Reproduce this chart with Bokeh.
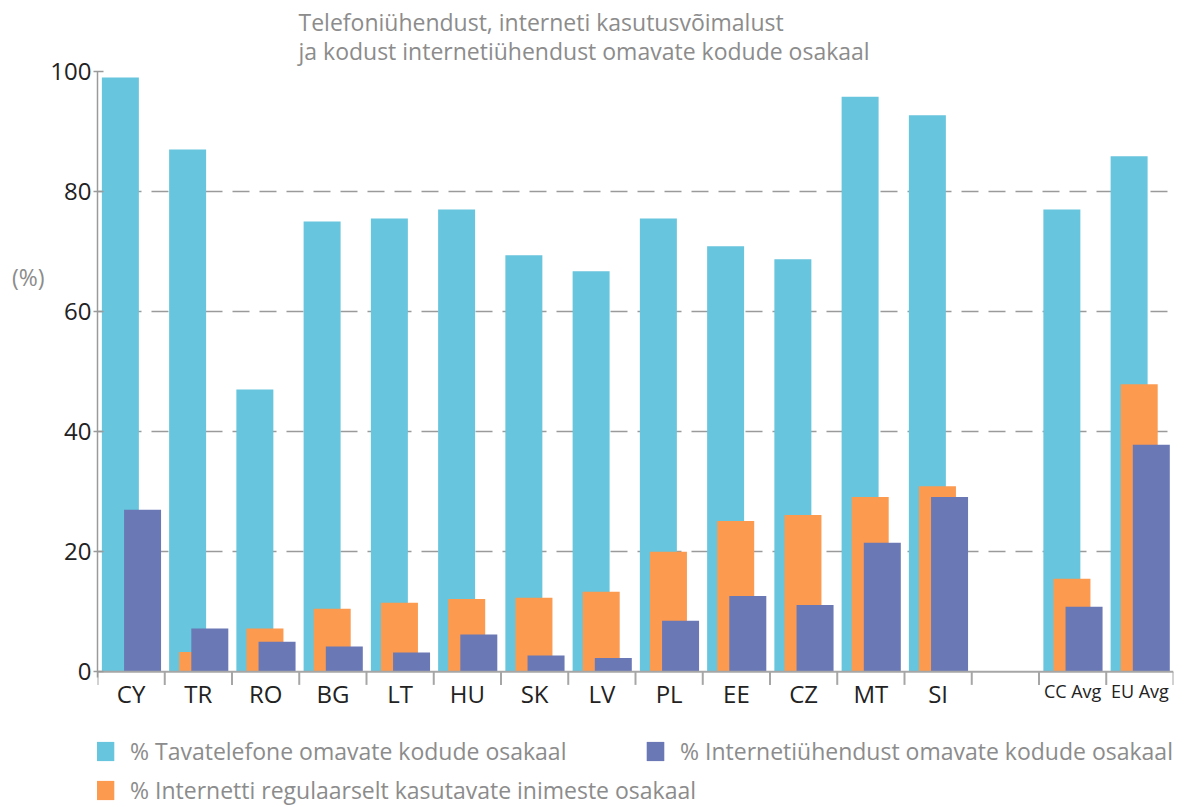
from bokeh.plotting import figure
from bokeh.models import (FactorRange, Range1d, FixedTicker, Legend, LinearAxis,
                          LegendItem, ColumnDataSource)
from bokeh.transform import dodge
from bokeh.core.properties import value
from bokeh.embed import file_html
from bokeh.resources import INLINE

categories = ["CY", "TR", "RO", "BG", "LT", "HU", "SK", "LV", "PL", "EE", "CZ",
              "MT", "SI", " ", "CC Avg", "EU Avg"]
fixed_phone = [99, 87, 47, 75, 75.5, 77, 69.4, 66.7, 75.5, 70.9, 68.7, 95.8, 92.7, 0, 77, 85.9]
internet_use = [0, 3.3, 7.2, 10.5, 11.5, 12.1, 12.3, 13.3, 20, 25.1, 26.1, 29.1, 30.9, 0, 15.5, 47.9]
internet_home = [27, 7.2, 5.0, 4.2, 3.2, 6.2, 2.7, 2.3, 8.5, 12.6, 11.1, 21.5, 29.1, 0, 10.8, 37.8]
y_ticks = [0, 20, 40, 60, 80, 100]
small_labels = ["CC Avg", "EU Avg"]

label_phone = "% Tavatelefone omavate kodude osakaal"
label_home = "% Internetiühendust omavate kodude osakaal"
label_use = "% Internetti regulaarselt kasutavate inimeste osakaal"
title_text = "Telefoniühendust, interneti kasutusvõimalust\nja kodust internetiühendust omavate kodude osakaal"
unit_text = "(%)"

C_PHONE = "#67C5DD"
C_USE = "#FC9A50"
C_HOME = "#6A78B6"
GRAY = "#9a9a9a"
LINE = "#a6a6a6"
DARK = "#222222"
TEXTGRAY = "#8c8c8c"
FONT = "Open Sans"

W, H = 1190, 807
TOP, LEFT, RIGHT = 70, 97, 17
ZERO_PX = 671
# y range extends below zero so that labels and legend fall inside the frame
Y_MIN = -100 * (H - ZERO_PX) / (ZERO_PX - TOP)
TICK_DEPTH = -2.2

big = [c for c in categories if c not in small_labels and c.strip()]

src = ColumnDataSource(dict(cat=categories, phone=fixed_phone, use=internet_use, home=internet_home))

p = figure(width=W, height=H, x_range=FactorRange(*categories), y_range=Range1d(Y_MIN, 100),
           output_backend="svg", toolbar_location=None, title=title_text,
           x_axis_location=None,
           min_border_left=LEFT, min_border_right=RIGHT, min_border_top=TOP, min_border_bottom=0)
p.outline_line_color = None
p.background_fill_color = "white"

# title
p.title.align = "left"
p.title.offset = 201
p.title.text_font = FONT
p.title.text_font_size = "23px"
p.title.text_font_style = "normal"
p.title.text_color = TEXTGRAY
p.title.text_line_height = 0.92
p.title.standoff = 8

BW = 0.55
r_phone = p.vbar(x=dodge("cat", -0.16, range=p.x_range), top="phone", bottom=0, width=BW,
                 source=src, fill_color=C_PHONE, line_color=None)
r_use = p.vbar(x=dodge("cat", -0.01, range=p.x_range), top="use", bottom=0, width=BW,
               source=src, fill_color=C_USE, line_color=None)
r_home = p.vbar(x=dodge("cat", 0.17, range=p.x_range), top="home", bottom=0, width=BW,
                source=src, fill_color=C_HOME, line_color=None)

# category separators below the zero line and the zero line itself
bounds = list(range(len(categories) + 1))
p.segment(x0=bounds, x1=bounds, y0=[0] * len(bounds), y1=[TICK_DEPTH] * len(bounds),
          line_color=LINE, line_width=2)
p.segment(x0=[0], x1=[len(categories)], y0=[0], y1=[0], line_color=LINE, line_width=2)

# category labels
p.text(x=big, y=[-3.6] * len(big), text=big, text_align="center", text_baseline="middle",
       text_font=value(FONT), text_font_size="24px", text_color=DARK)
p.text(x=small_labels, y=[-3.2] * len(small_labels), text=small_labels, text_align="center",
       text_baseline="middle", text_font=value(FONT), text_font_size="18px", text_color=DARK)

# grid
p.xgrid.grid_line_color = None
p.ygrid.ticker = FixedTicker(ticks=y_ticks[1:])
p.ygrid.grid_line_color = GRAY
p.ygrid.grid_line_dash = "17 10"
p.ygrid.grid_line_width = 1.3

# y axis
p.yaxis.ticker = FixedTicker(ticks=y_ticks)
p.yaxis.bounds = (-1, 100)
p.yaxis.axis_line_color = GRAY
p.yaxis.axis_line_width = 1.5
p.yaxis.major_tick_line_color = GRAY
p.yaxis.major_tick_line_width = 1.5
p.yaxis.major_tick_in = 6
p.yaxis.major_tick_out = 4
p.yaxis.minor_tick_line_color = None
p.yaxis.major_label_text_font = FONT
p.yaxis.major_label_text_font_size = "24px"
p.yaxis.major_label_text_color = DARK
p.yaxis.major_label_standoff = 2

# unit label as a second, line-less axis
unit_pos = 65.8
unit_axis = LinearAxis(ticker=FixedTicker(ticks=[unit_pos]),
                       major_label_overrides={unit_pos: unit_text, str(unit_pos): unit_text},
                       axis_line_color=None, major_tick_line_color=None,
                       minor_tick_line_color=None, major_tick_out=0, major_tick_in=0,
                       major_label_standoff=3, major_label_text_font=FONT,
                       major_label_text_font_size="23px", major_label_text_color=TEXTGRAY)
p.add_layout(unit_axis, "left")

# legends
def make_legend(label, r, loc):
    lg = Legend(items=[LegendItem(label=label, renderers=[r])], location=loc,
                orientation="horizontal", margin=0, padding=0,
                glyph_width=22, glyph_height=24, label_height=24, label_standoff=14,
                label_text_font=FONT, label_text_font_size="23px", label_text_color=TEXTGRAY,
                border_line_color=None, background_fill_alpha=0)
    p.add_layout(lg)

make_legend(label_phone, r_phone, (-3, 40))
make_legend(label_home, r_home, (547, 40))
make_legend(label_use, r_use, (-3, 1))

open("out.html", "w").write(file_html(p, INLINE))
